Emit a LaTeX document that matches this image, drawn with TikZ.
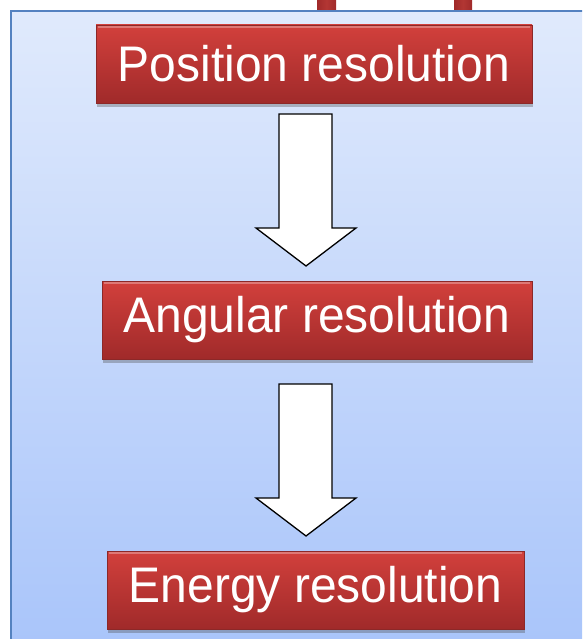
\documentclass[tikz,border=0pt]{standalone}
\usepackage{fontspec}
\setmainfont{Liberation Sans}
\newfontfamily\boxfont[FakeStretch=0.96]{Liberation Sans}
\usetikzlibrary{shadows}
\definecolor{paneltop}{RGB}{224,234,252}
\definecolor{panelbot}{RGB}{168,196,250}
\definecolor{panelline}{RGB}{84,130,192}
\definecolor{redtop}{RGB}{210,64,60}
\definecolor{redbot}{RGB}{160,42,42}
\definecolor{redrim}{RGB}{140,40,40}
\tikzset{
  redbox/.style={rectangle, draw=redrim, line width=0.8pt,
    top color=redtop, bottom color=redbot, text=white,
    minimum height=78pt, inner sep=0pt,
    font=\boxfont\fontsize{50}{54}\selectfont,
    drop shadow={shadow xshift=1pt, shadow yshift=-4pt, opacity=0.35, fill=black!70}},
  rim/.style={draw=white, draw opacity=0.3, line width=2pt},
  blockarrow/.style={draw=black, line width=1.3pt, fill=white, line join=miter},
  bar/.style={draw=none, left color=redbot, right color=redbot, middle color=redtop!85!black}
}
\begin{document}
\begin{tikzpicture}[x=1pt,y=-1pt]
\useasboundingbox (0,0) rectangle (582,639);
\clip (0,0) rectangle (582,639);
% top bars
\fill[bar] (317,-2) rectangle (336,13);
\fill[bar] (454,-2) rectangle (472,13);
% panel
\shade[top color=paneltop, bottom color=panelbot] (11,11) rectangle (600,660);
\draw[panelline, line width=1.5pt] (11,660) -- (11,11) -- (600,11);
% boxes
\node[redbox, minimum width=436pt] (pos) at (314,64) {Position resolution};
\node[redbox, minimum width=430pt] (ang) at (317,320) {Angular resolution};
\node[redbox, minimum width=417pt] (ene) at (315.5,590) {Energy resolution};
\foreach \b in {pos,ang,ene}{
  \draw[rim] ([xshift=2pt,yshift=-2pt]\b.north west) -- ([xshift=-2pt,yshift=-2pt]\b.north east);
}
% block arrows
\draw[blockarrow] (279,114) -- (332,114) -- (332,228) -- (356,228) -- (306,266)
  -- (256,228) -- (279,228) -- cycle;
\draw[blockarrow] (279,384) -- (332,384) -- (332,498) -- (356,498) -- (306,536)
  -- (256,498) -- (279,498) -- cycle;
\end{tikzpicture}
\end{document}
